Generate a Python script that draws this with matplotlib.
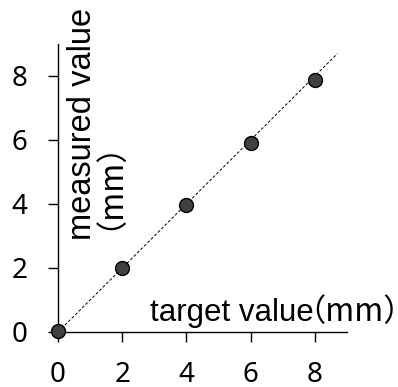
import matplotlib
matplotlib.use("Agg")
import matplotlib.pyplot as plt

plt.rcParams['font.family'] = ['Liberation Sans', 'Noto Sans CJK JP', 'DejaVu Sans']

# measured vs target positions (mm)
target = [0, 2, 4, 6, 8]
measured = [0.03, 2.0, 3.98, 5.92, 7.87]
ideal = [0, 8.7]
ticks = [0, 2, 4, 6, 8]

fig = plt.figure(figsize=(3.98, 3.87), dpi=100)
ax = fig.add_axes([58 / 398, 55 / 387, 289 / 398, 288 / 387])

ax.plot(ideal, ideal, ls=(0, (3, 2)), color='black', lw=0.7, zorder=1)
ax.plot(target, measured, 'o', ms=10, mfc='#404040', mec='black', mew=1.0,
        zorder=3, clip_on=False)

ax.set_xlim(0, 9)
ax.set_ylim(0, 9)
ax.set_xticks(ticks)
ax.set_yticks(ticks)
ax.spines['top'].set_visible(False)
ax.spines['right'].set_visible(False)
for s in ('left', 'bottom'):
    ax.spines[s].set_linewidth(1.0)
ax.tick_params(direction='out', length=7.2, width=1, labelsize=20)
ax.tick_params(axis='x', pad=13.5)
ax.tick_params(axis='y', pad=15)
for t in ax.get_xticklabels() + ax.get_yticklabels():
    t.set_family('Noto Sans')

cjk = ['Noto Sans CJK JP', 'DejaVu Sans']

# x-axis caption, placed inside the plot area
fig.text(150, 66, 'target value', transform=None, ha='left', va='baseline',
         fontsize=22.5)
fig.text(294, 66, '（mm）', transform=None, ha='left', va='baseline',
         fontsize=22.5, family=cjk)

# y-axis caption, two rotated lines
fig.text(91, 147, 'measured value', transform=None, rotation=90,
         rotation_mode='anchor', ha='left', va='baseline', fontsize=23.5)
fig.text(102, 157, '（mm）', transform=None, rotation=90,
         rotation_mode='anchor', ha='left', va='baseline', fontsize=22.5,
         family=cjk)

fig.savefig('out.png', dpi=100)
